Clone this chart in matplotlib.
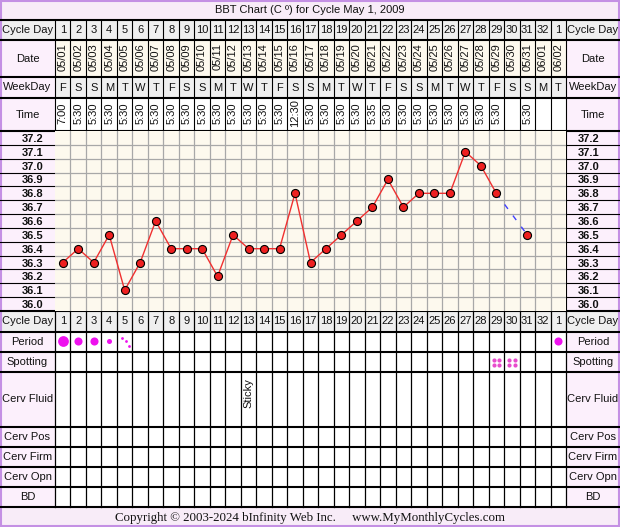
import numpy as np
import matplotlib
matplotlib.use("Agg")
import matplotlib.pyplot as plt
from matplotlib.patches import Rectangle

plt.rcParams["font.family"] = ["Liberation Sans", "DejaVu Sans"]

# ------ Chart data ------
cycle_days = ["1", "2", "3", "4", "5", "6", "7", "8", "9", "10", "11",
              "12", "13", "14", "15", "16", "17", "18", "19", "20", "21",
              "22", "23", "24", "25", "26", "27", "28", "29", "30", "31",
              "32", "1"]
dates = ["05/01", "05/02", "05/03", "05/04", "05/05", "05/06", "05/07",
         "05/08", "05/09", "05/10", "05/11", "05/12", "05/13", "05/14",
         "05/15", "05/16", "05/17", "05/18", "05/19", "05/20", "05/21",
         "05/22", "05/23", "05/24", "05/25", "05/26", "05/27", "05/28",
         "05/29", "05/30", "05/31", "06/01", "06/02"]
weekdays = ["F", "S", "S", "M", "T", "W", "T", "F", "S", "S", "M", "T",
            "W", "T", "F", "S", "S", "M", "T", "W", "T", "F", "S", "S",
            "M", "T", "W", "T", "F", "S", "S", "M", "T"]
times = ["7:00", "5:30", "5:30", "5:30", "5:30", "5:30", "5:30", "5:30",
         "5:30", "5:30", "5:30", "5:30", "5:30", "5:30", "5:30", "12:30",
         "5:30", "5:30", "5:30", "5:30", "5:35", "5:30", "5:30", "5:30",
         "5:30", "5:30", "5:30", "5:30", "5:30", "", "5:30", "", ""]
temps = [36.3, 36.4, 36.3, 36.5, 36.1, 36.3, 36.6, 36.4, 36.4, 36.4,
         36.2, 36.5, 36.4, 36.4, 36.4, 36.8, 36.3, 36.4, 36.5, 36.6,
         36.7, 36.9, 36.7, 36.8, 36.8, 36.8, 37.1, 37.0, 36.8, None,
         36.5, None, None]
temp_ticks = [37.2, 37.1, 37.0, 36.9, 36.8, 36.7, 36.6, 36.5, 36.4,
              36.3, 36.2, 36.1, 36.0]

period_flow = ["heavy", "medium", "medium", "light", "spotty", "", "", "",
               "", "", "", "", "", "", "", "", "", "", "", "", "", "", "",
               "", "", "", "", "", "", "", "", "", "medium"]
spotting_days = [29, 30]
cerv_fluid = ["", "", "", "", "", "", "", "", "", "", "", "", "Sticky",
              "", "", "", "", "", "", "", "", "", "", "", "", "", "", "",
              "", "", "", "", ""]
bottom_labels = ["Period", "Spotting", "Cerv Fluid", "Cerv Pos",
                 "Cerv Firm", "Cerv Opn", "BD"]

# ------ Layout (pixels) ------
W, H = 620, 527
X0, X1 = 55, 566
N = len(cycle_days)
CW = (X1 - X0) / N
CHART_TOP, CHART_BOT = 131, 311
ROW_H = (CHART_BOT - CHART_TOP) / len(temp_ticks)
bottom_edges = [332, 352, 372, 427, 447, 467, 487, 507]

TXT = "#111111"
PINK = "#fcf0fc"
TITLE_PINK = "#f8ecf8"
GRAY = "#efefef"
CREAM = "#fdf9ee"
PURPLE = "#c490e4"


def col_x(i):
    return X0 + (i + 0.5) * CW


fig = plt.figure(figsize=(6.2, 5.27), dpi=100)
ax = fig.add_axes([0, 0, 1, 1])
ax.set_xlim(0, W)
ax.set_ylim(H, 0)
ax.axis("off")

# ------ Backgrounds ------
ax.add_patch(Rectangle((0, 0), W, 20, fc=TITLE_PINK, ec="none"))
ax.add_patch(Rectangle((0, 20), X0, 487, fc=PINK, ec="none"))
ax.add_patch(Rectangle((X1, 20), W - X1, 487, fc=PINK, ec="none"))
ax.add_patch(Rectangle((0, 20), W, 20, fc=GRAY, ec="none"))
ax.add_patch(Rectangle((0, 311), W, 21, fc=GRAY, ec="none"))
ax.add_patch(Rectangle((X0, 40), X1 - X0, 37, fc=CREAM, ec="none"))
ax.add_patch(Rectangle((X0, 77), X1 - X0, 21, fc=GRAY, ec="none"))
ax.add_patch(Rectangle((0, 507), W, 20, fc=TITLE_PINK, ec="none"))

# ------ Header rows ------
ax.text(W / 2, 10, "BBT Chart (C º) for Cycle May 1, 2009", ha="center",
        va="center", fontsize=8, color=TXT)
for y, lab in [(30, "Cycle Day"), (58.5, "Date"), (87.5, "WeekDay"),
               (114.5, "Time"), (321.5, "Cycle Day")]:
    ax.text(X0 / 2, y, lab, ha="center", va="center", fontsize=8, color=TXT)
    ax.text((X1 + W) / 2, y, lab, ha="center", va="center", fontsize=8,
            color=TXT)

for i in range(N):
    x = col_x(i)
    ax.text(x, 30, cycle_days[i], ha="center", va="center", fontsize=8,
            color=TXT)
    ax.text(x, 321.5, cycle_days[i], ha="center", va="center", fontsize=8,
            color=TXT)
    ax.text(x, 57, dates[i], ha="center", va="center", rotation=90,
            fontsize=8, color=TXT)
    ax.text(x, 88, weekdays[i], ha="center", va="center", fontsize=8,
            color=TXT)
    if times[i]:
        ax.text(x, 113.5, times[i], ha="center", va="center", rotation=90,
                fontsize=8, color=TXT)
    if cerv_fluid[i]:
        ax.text(x, 393, cerv_fluid[i], ha="center", va="center",
                rotation=90, fontsize=8, color=TXT)

# ------ Bottom row labels ------
for lab, top, bot in zip(bottom_labels, bottom_edges[:-1], bottom_edges[1:]):
    yc = (top + bot) / 2
    ax.text(X0 / 2, yc, lab, ha="center", va="center", fontsize=8, color=TXT)
    ax.text((X1 + W) / 2, yc, lab, ha="center", va="center", fontsize=8,
            color=TXT)

# ------ Table lines ------
for k in range(N + 1):
    x = X0 + k * CW
    ax.plot([x, x], [20, CHART_TOP], color="black", lw=0.8)
    ax.plot([x, x], [CHART_BOT, 507], color="black", lw=0.9)
for y in [20, 40, 77, 98, CHART_TOP, CHART_BOT] + bottom_edges:
    ax.plot([0, W], [y, y], color="black", lw=1.5)
for k in range(1, len(temp_ticks)):
    y = CHART_TOP + k * ROW_H
    ax.plot([0, X0], [y, y], color="black", lw=0.8)
    ax.plot([X1, W], [y, y], color="black", lw=0.8)
ax.plot([X1, X1], [CHART_TOP, CHART_BOT], color="black", lw=0.8)
ax.add_patch(Rectangle((0.75, 0.75), W - 1.5, H - 1.5, fill=False,
                       ec=PURPLE, lw=1.5))

ax.text(W / 2, 517.5,
        "Copyright © 2003-2024 bInfinity Web Inc.     www.MyMonthlyCycles.com",
        ha="center", va="center", fontsize=9.3, color=TXT,
        family=["Liberation Serif", "DejaVu Serif"])

# ------ Temperature chart ------
axc = fig.add_axes([X0 / W, 1 - CHART_BOT / H, (X1 - X0) / W,
                    (CHART_BOT - CHART_TOP) / H])
axc.set_facecolor(CREAM)
axc.set_xlim(0.5, N + 0.5)
axc.set_ylim(temp_ticks[-1] - 0.05, temp_ticks[0] + 0.05)
axc.set_xticks(np.arange(1.5, N, 1.0), minor=True)
axc.set_yticks(np.arange(temp_ticks[-1] + 0.05, temp_ticks[0], 0.1),
               minor=True)
axc.set_xticks([])
axc.set_yticks(temp_ticks)
axc.set_yticklabels([f"{t:.1f}" for t in temp_ticks], fontweight="bold",
                    fontsize=8, color=TXT)
axc.tick_params(axis="y", which="major", length=0, pad=8.5,
                labelleft=True, labelright=True)
axc.tick_params(which="minor", length=0)
axc.grid(which="minor", color="#a8a8a8", lw=0.9)
for s in axc.spines.values():
    s.set_visible(False)

days = np.arange(1, N + 1)
t = np.array([np.nan if v is None else v for v in temps])
axc.plot(days, t, color="#f03030", lw=1, zorder=3)
valid = np.where(~np.isnan(t))[0]
for a, b in zip(valid[:-1], valid[1:]):
    if b - a > 1:
        axc.plot([days[a], days[b]], [t[a], t[b]], color="#4040ff", lw=1,
                 ls=(0, (4, 6)), zorder=3)
axc.plot(days, t, ls="none", marker="o", ms=5.8, mfc="#ee2020", mec="black",
         mew=0.8, zorder=4)

# ------ Period / spotting marks ------
axm = fig.add_axes([X0 / W, 1 - 372 / H, (X1 - X0) / W, 40 / H])
axm.set_xlim(0.5, N + 0.5)
axm.set_ylim(-0.5, 1.5)
axm.axis("off")
px_x = 1 / CW
px_y = 1 / 20
flow_size = {"heavy": 60, "medium": 34, "light": 13}
for d, flow in zip(days, period_flow):
    if flow in flow_size:
        axm.scatter(d, 1.05, s=flow_size[flow], color="#ee11ee", lw=0)
    elif flow == "spotty":
        for dx, dy in [(-3, 4), (1, 1), (4.5, -3.5)]:
            axm.scatter(d + dx * px_x, 1.0 + dy * px_y, s=4,
                        color="#ee11ee", lw=0)
for d in spotting_days:
    for dx in (-2.7, 2.7):
        for dy in (-2.5, 2.5):
            axm.scatter(d + dx * px_x, dy * px_y, s=9, color="#e84ccc", lw=0)

fig.savefig("out.png", dpi=100)
